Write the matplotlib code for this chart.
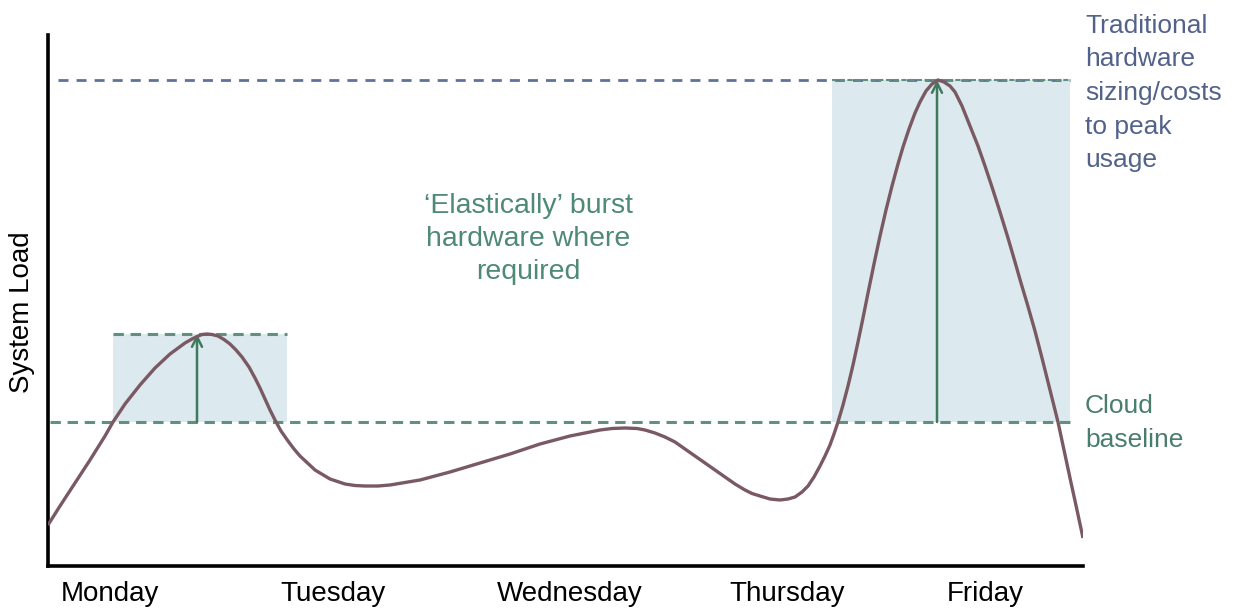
import matplotlib.pyplot as plt

plt.rcParams['font.family'] = ['Liberation Sans', 'DejaVu Sans']

# time axis runs Monday -> Friday (arbitrary units), load in arbitrary units
t = [48, 60, 75, 90, 105, 113, 125, 140, 155, 170, 185, 192, 197, 202, 207,
     212, 218, 224, 230, 236, 242, 249, 255, 260, 265, 270, 275, 281, 288,
     294, 300, 315, 330, 345, 355, 365, 378, 390,
     420, 450, 480, 510, 540, 570, 600, 612, 625, 637, 645, 655, 665, 675,
     685, 695, 705, 715, 725, 735, 745, 752, 760, 770, 780, 788, 795, 802,
     808, 814, 820, 825, 830, 834, 838, 843, 848, 853, 858, 863, 868, 874,
     880, 886, 892, 898, 903, 909, 915, 920, 926, 932, 938, 944, 950, 955,
     962, 970, 978, 985, 992, 1000, 1008, 1015, 1021, 1027, 1035, 1042,
     1050, 1058, 1064, 1070, 1077, 1083]
load = [41, 60, 83, 106, 130, 144, 162, 181, 198, 212, 223, 227, 229.5, 231.5,
        232, 231.5, 230, 226.5, 222, 216, 209, 199, 188, 178, 167, 156, 146,
        135, 125, 117, 110, 96, 87, 82, 80.5, 80, 80, 81,
        86, 94, 103, 112, 122, 130, 136, 137.5, 138, 137.5, 136, 133, 129,
        124, 117, 110, 103, 96, 89, 82, 76, 72.5, 70, 67, 66, 67, 69, 74,
        80, 89, 100, 110, 121, 132, 144, 161, 180, 201, 224, 248, 273, 302,
        330, 356, 380, 402, 419, 437, 453, 464, 475, 482, 486, 484, 480, 474,
        460, 440, 420, 400, 379, 354, 328, 304, 283, 263, 235, 208,
        176, 144, 116, 88, 56, 28]

days = ['Monday', 'Tuesday', 'Wednesday', 'Thursday', 'Friday']
day_pos = [110, 333, 570, 787, 985]

baseline = 144
monday_peak = 232
friday_peak = 486
monday_span = (113, 287)
friday_span = (832, 1070)
monday_arrow_x = 197
friday_arrow_x = 937

curve_col = '#7a5a62'
shade_col = '#dce9ef'
green = '#62907e'
arrow_col = '#3f7a5c'
slate = '#60719a'
label_slate = '#52628a'

fig = plt.figure(figsize=(12.37, 6.09), dpi=100)
ax = fig.add_axes([48 / 1237, 43 / 609, 1035 / 1237, 531 / 609])
ax.set_xlim(48, 1083)
ax.set_ylim(0, 531)

# burst regions
ax.axvspan(*monday_span, ymin=baseline / 531, ymax=monday_peak / 531,
           color=shade_col, lw=0, zorder=0)
ax.axvspan(*friday_span, ymin=baseline / 531, ymax=friday_peak / 531,
           color=shade_col, lw=0, zorder=0)

# reference levels
ax.plot([58, 1070], [friday_peak, friday_peak], color=slate, lw=2,
        dashes=(3.6, 2.9), zorder=1)
ax.plot(friday_span, [friday_peak, friday_peak],
        color=green, lw=1.5, dashes=(2.5, 1.2), zorder=1)
ax.plot([50, 1070], [baseline, baseline], color=green, lw=2.2,
        dashes=(3.4, 2.2), zorder=1)
ax.plot(monday_span, [monday_peak, monday_peak], color=green, lw=2.2,
        dashes=(3.4, 2.2), zorder=1)

# arrows up to the peaks
for x, top in [(monday_arrow_x, monday_peak), (friday_arrow_x, friday_peak)]:
    ax.annotate('', xy=(x, top), xytext=(x, baseline),
                arrowprops=dict(arrowstyle='->', color=arrow_col, lw=1.8,
                                shrinkA=0, shrinkB=0, mutation_scale=18),
                zorder=2)

ax.plot(t, load, color=curve_col, lw=2.4, zorder=3,
        solid_joinstyle='round', solid_capstyle='butt')

ax.spines['top'].set_visible(False)
ax.spines['right'].set_visible(False)
ax.spines['left'].set_linewidth(2.6)
ax.spines['bottom'].set_linewidth(2.6)
ax.set_yticks([])
ax.set_xticks(day_pos)
ax.set_xticklabels(days, fontsize=20)
ax.tick_params(axis='x', length=0, pad=11)
ax.set_ylabel('System Load', fontsize=20)
ax.yaxis.set_label_coords(-13 / 1035, 0.478)

ax.text(528, 327, '\u2018Elastically\u2019 burst\nhardware where\nrequired',
        ha='center', va='center', fontsize=20.5, color='#4e8a74',
        linespacing=1.36)
fig.text(1085 / 1237, 1 - 93 / 609,
         'Traditional\nhardware\nsizing/costs\nto peak\nusage',
         ha='left', va='center', fontsize=19, color=label_slate,
         linespacing=1.51)
fig.text(1085 / 1237, 1 - 423 / 609, 'Cloud\nbaseline',
         ha='left', va='center', fontsize=19, color='#4a7e6c',
         linespacing=1.53)

fig.savefig('out.png', dpi=100)
